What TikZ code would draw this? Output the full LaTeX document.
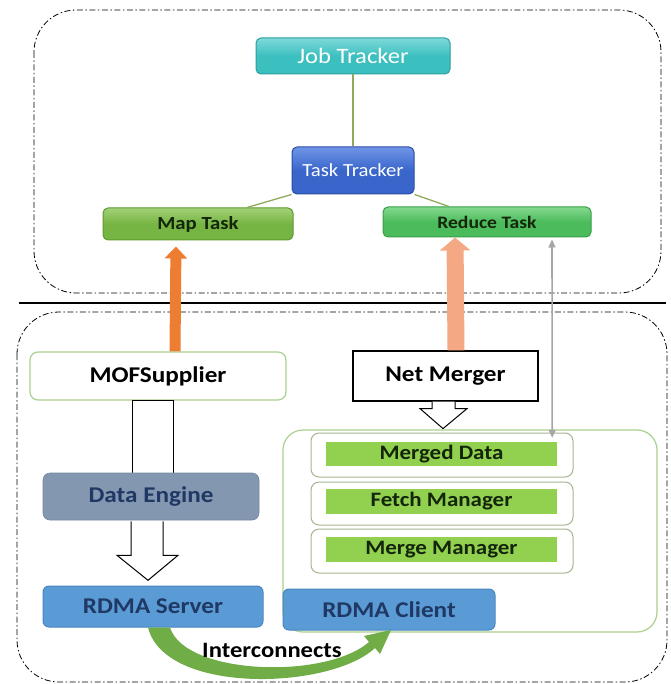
\documentclass[tikz,border=0pt]{standalone}
\usepackage{fontspec}
\setmainfont{Carlito}[FakeStretch=1.12]
\usetikzlibrary{arrows.meta,calc}
\definecolor{jtc}{HTML}{3CBFBF}
\definecolor{jtl}{HTML}{7ED9D9}
\definecolor{jtd}{HTML}{2A9E9E}
\definecolor{ttc}{HTML}{3A66CC}
\definecolor{ttl}{HTML}{6F95E6}
\definecolor{ttd}{HTML}{2A4DA6}
\definecolor{mapc}{HTML}{76B443}
\definecolor{mapl}{HTML}{A3D178}
\definecolor{mapd}{HTML}{5E9A30}
\definecolor{redc}{HTML}{4CBB5C}
\definecolor{redl}{HTML}{84D98F}
\definecolor{redd}{HTML}{379E46}
\definecolor{linkc}{HTML}{8FAA5C}
\definecolor{orangec}{HTML}{ED7D31}
\definecolor{salmonc}{HTML}{F4A884}
\definecolor{grayc}{HTML}{A6A6A6}
\definecolor{paleg}{HTML}{A9D18E}
\definecolor{boxg}{HTML}{A5B592}
\definecolor{barg}{HTML}{92D050}
\definecolor{dec}{HTML}{8497B0}
\definecolor{navy}{HTML}{1F3864}
\definecolor{rdmac}{HTML}{5B9BD5}
\definecolor{rdmad}{HTML}{4A86BE}
\definecolor{curvec}{HTML}{70AD47}
\definecolor{darktxt}{HTML}{14260A}
\begin{document}
\begin{tikzpicture}[x=1pt,y=-1pt,
  dashdot/.style={draw=black, line width=0.8pt, dash pattern=on 6pt off 2.5pt on 1.5pt off 2.5pt, rounded corners=42pt},
  bevel/.style={rounded corners=5pt, line width=1pt, inner sep=0pt, align=center},
  link/.style={draw=linkc, line width=1.3pt},
  hollow/.style={draw=black, line width=1pt, fill=white},
  greenbar/.style={fill=barg, inner sep=0pt, text=darktxt, font=\fontsize{20.5}{24}\selectfont\bfseries},
  outerbox/.style={draw=boxg, line width=1pt, fill=white, rounded corners=8pt},
  rdma/.style={fill=rdmac, draw=rdmad, line width=1pt, rounded corners=6pt, inner sep=0pt, text=navy, font=\fontsize{22.5}{26}\selectfont\bfseries}
]
\useasboundingbox (0,0) rectangle (670,684);
\fill[white] (0,0) rectangle (670,684);

% frames
\draw[dashdot] (34,10) rectangle (661,293);
\draw[dashdot] (17,312) rectangle (667,682);
\coordinate (hl) at (19,303);
\coordinate (hr) at (666,303);
\draw[line width=1.6pt] (hl) -- (hr);

% top tree
\node[bevel, draw=jtd, top color=jtl, bottom color=jtc, middle color=jtc, minimum width=194pt, minimum height=36pt, text=white, font=\fontsize{22}{26}\selectfont] (jt) at (353,56) {Job Tracker};
\node[bevel, draw=ttd, top color=ttl, bottom color=ttc, middle color=ttc, minimum width=122pt, minimum height=47pt, text=white, font=\fontsize{18.5}{22}\selectfont] (tt) at (353,170.5) {Task Tracker};
\node[bevel, draw=mapd, top color=mapl, bottom color=mapc, middle color=mapc, minimum width=190pt, minimum height=32pt, text=darktxt, font=\fontsize{18.5}{22}\selectfont\bfseries] (map) at (198,224) {Map Task};
\node[bevel, draw=redd, top color=redl, bottom color=redc, middle color=redc, minimum width=208pt, minimum height=30pt, text=darktxt, font=\fontsize{17.5}{21}\selectfont\bfseries] (red) at (487,222) {Reduce Task};

\draw[link] (jt.south) -- (tt.north);
\draw[link] (tt.south west) -- ([xshift=49pt]map.north);
\draw[link] (tt.south east) -- ([xshift=-38pt]red.north);

% lower part nodes
\node[draw=paleg, line width=1.2pt, fill=white, rounded corners=8pt, minimum width=256pt, minimum height=48pt, inner sep=0pt, font=\fontsize{22.5}{26}\selectfont\bfseries] (mof) at (158,376) {MOFSupplier};
\node[draw=black, line width=1.2pt, fill=white, minimum width=185pt, minimum height=50pt, inner sep=0pt, font=\fontsize{22.5}{26}\selectfont\bfseries] (net) at (445.5,376) {Net Merger};

% vertical arrows to the tasks
\draw[orangec, line width=11pt, -{Triangle[length=12pt,width=22pt]}, shorten >=6pt] ([xshift=17pt]mof.north) -- ([xshift=-22pt]map.south);
\draw[salmonc, line width=17pt, -{Triangle[length=13pt,width=30pt]}] ([xshift=10.5pt]net.north) -- ([xshift=-32pt]red.south);

% hollow arrow MOF -> Data Engine (shaft)
\draw[hollow] ([xshift=-26pt]mof.south) rectangle ([xshift=15pt,yshift=-1pt]mof.south |- 0,473);

\node[fill=dec, draw=dec!90!black, line width=0.6pt, rounded corners=7pt, minimum width=216pt, minimum height=47pt, inner sep=0pt, text=navy, font=\fontsize{22.5}{26}\selectfont\bfseries] (de) at (151,496.5) {Data Engine};

% hollow arrow Data Engine -> RDMA Server
\filldraw[hollow] ([xshift=-20pt,yshift=-1pt]de.south) -- ++(0,34) -- ++(-14,0) -- ++(31,25) -- ++(30,-25) -- ++(-15,0) -- ++(0,-34);

% hollow arrow Net Merger -> Merged Data
\filldraw[hollow] ([xshift=-13.5pt]net.south) -- ++(0,7) -- ++(-12,0) -- ++(23,20) -- ++(24,-20) -- ++(-12,0) -- ++(0,-7);

% client container
\draw[draw=paleg, line width=1.2pt, rounded corners=20pt] (283,430) rectangle (657,632);

\node[outerbox, minimum width=262pt, minimum height=44pt] (mdbox) at (442,455) {};
\node[greenbar, minimum width=231pt, minimum height=24pt] (mdbar) at (441.5,454) {Merged Data};
\node[outerbox, minimum width=262pt, minimum height=43pt] (fmbox) at (442,503.5) {};
\node[greenbar, minimum width=231pt, minimum height=25pt] (fmbar) at (441.5,501.5) {Fetch Manager};
\node[outerbox, minimum width=262pt, minimum height=44pt] (mmbox) at (442,551) {};
\node[greenbar, minimum width=231pt, minimum height=25pt] (mmbar) at (441.5,549.5) {Merge Manager};

% gray double arrow
\draw[grayc, line width=1.6pt, {Triangle[length=8pt,width=7pt]}-{Triangle[length=8pt,width=7pt]}] ([xshift=65pt,yshift=-2pt]red.south) -- ([xshift=-5pt,yshift=4pt]mdbar.north east);

% RDMA nodes
\node[rdma, minimum width=220pt, minimum height=41pt] (rs) at (153,606.5) {RDMA Server};
\node[rdma, minimum width=212pt, minimum height=41pt] (rc) at (389,609.5) {RDMA Client};

% curved interconnect arrow
\fill[curvec] ([xshift=-5pt]rs.south) .. controls (165,695) and (330,690) .. (375,648)
  -- (380,654) -- (391,630) -- (364,636) -- (369,642)
  .. controls (325,680) and (185,675) .. ([xshift=17pt]rs.south) -- cycle;
\node[font=\fontsize{22}{26}\selectfont\bfseries] (ic) at (272,650) {Interconnects};
\end{tikzpicture}
\end{document}
